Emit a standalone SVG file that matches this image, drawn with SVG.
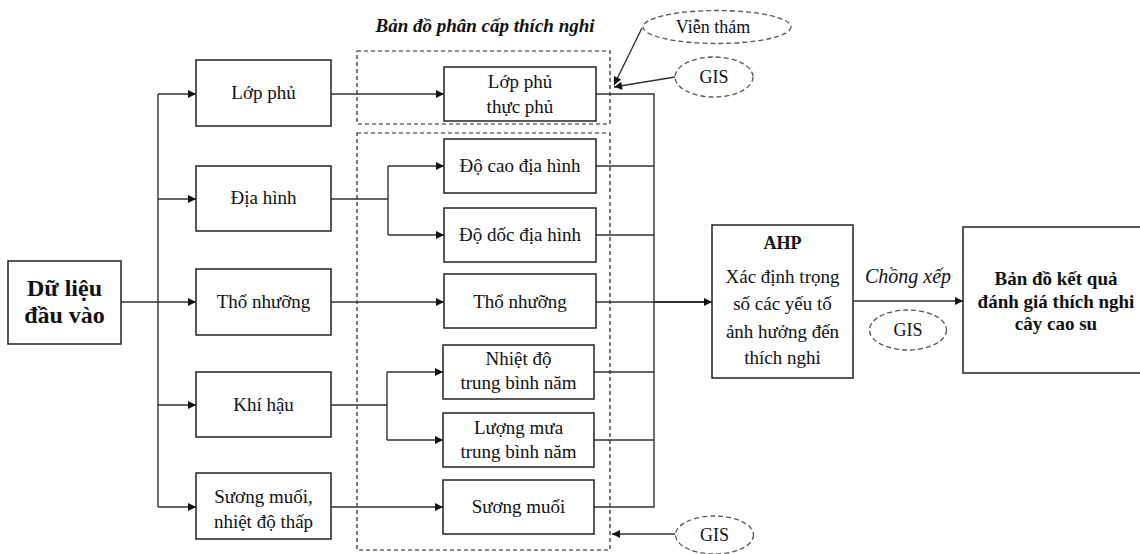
<svg xmlns="http://www.w3.org/2000/svg" width="1140" height="554" viewBox="0 0 1140 554">
<defs>
<marker id="ah" viewBox="0 0 10 10" refX="10" refY="5" markerWidth="9" markerHeight="8" markerUnits="userSpaceOnUse" orient="auto"><path d="M0,0 L10,5 L0,10 z" fill="#111"/></marker>
</defs>
<style>
.box{fill:#fff;stroke:#222;stroke-width:1.5}
.dash{fill:none;stroke:#222;stroke-width:1.2;stroke-dasharray:4,3}
.ell{fill:#fff;stroke:#555;stroke-width:1.3;stroke-dasharray:5,3}
.ln{fill:none;stroke:#333;stroke-width:1.4}
.ar{fill:none;stroke:#333;stroke-width:1.4;marker-end:url(#ah)}
text{font-family:"Liberation Serif","Times New Roman",serif;fill:#111;text-anchor:middle}
.t{font-size:19px}
.g{font-size:18px}
.b{font-weight:bold}
</style>
<rect width="1140" height="554" fill="#fff"/>

<g id="groups">
<rect class="dash" x="357" y="51" width="253" height="73"/>
<rect class="dash" x="357" y="133" width="253" height="417"/>
<text x="485" y="32" font-size="19" font-weight="bold" font-style="italic">Bản đồ phân cấp thích nghi</text>
</g>

<g id="connectors">
<polyline class="ln" points="121,302 158,302"/>
<line class="ln" x1="158" y1="94" x2="158" y2="507"/>
<line class="ar" x1="158" y1="94" x2="196" y2="94"/>
<line class="ar" x1="158" y1="199" x2="196" y2="199"/>
<line class="ar" x1="158" y1="302" x2="196" y2="302"/>
<line class="ar" x1="158" y1="405" x2="196" y2="405"/>
<line class="ar" x1="158" y1="507" x2="196" y2="507"/>
<line class="ar" x1="331" y1="94" x2="444" y2="94"/>
<polyline class="ln" points="331,199 388,199"/>
<line class="ln" x1="388" y1="166" x2="388" y2="235"/>
<line class="ar" x1="388" y1="166" x2="444" y2="166"/>
<line class="ar" x1="388" y1="235" x2="444" y2="235"/>
<line class="ar" x1="331" y1="302" x2="444" y2="302"/>
<polyline class="ln" points="331,405 387,405"/>
<line class="ln" x1="387" y1="372" x2="387" y2="440"/>
<line class="ar" x1="387" y1="372" x2="443" y2="372"/>
<line class="ar" x1="387" y1="440" x2="443" y2="440"/>
<line class="ar" x1="331" y1="507" x2="443" y2="507"/>
<polyline class="ln" points="596,94 654,94 654,507 594,507"/>
<line class="ln" x1="596" y1="166" x2="654" y2="166"/>
<line class="ln" x1="596" y1="235" x2="654" y2="235"/>
<line class="ln" x1="596" y1="302" x2="654" y2="302"/>
<line class="ln" x1="594" y1="372" x2="654" y2="372"/>
<line class="ln" x1="594" y1="440" x2="654" y2="440"/>
<line class="ar" x1="654" y1="302" x2="712" y2="302" style="stroke-width:2"/>
<line class="ar" x1="853" y1="301" x2="963" y2="301"/>
<line class="ar" x1="642" y1="28" x2="614" y2="85"/>
<line class="ar" x1="675" y1="77" x2="614" y2="87"/>
<line class="ar" x1="675" y1="534" x2="612" y2="534"/>
</g>

<g id="n-input"><rect class="box" x="8" y="261" width="113" height="83"/>
<text class="b" x="64.5" y="296" font-size="24">Dữ liệu</text><text class="b" x="64.5" y="323" font-size="24">đầu vào</text></g>

<g id="n-lopphu"><rect class="box" x="196" y="60" width="135" height="66"/><text class="t" x="263.5" y="99">Lớp phủ</text></g>
<g id="n-diahinh"><rect class="box" x="196" y="166" width="135" height="65"/><text class="t" x="263.5" y="204">Địa hình</text></g>
<g id="n-thonhuong"><rect class="box" x="196" y="269" width="135" height="66"/><text class="t" x="263.5" y="308">Thổ nhưỡng</text></g>
<g id="n-khihau"><rect class="box" x="196" y="372" width="135" height="65"/><text class="t" x="263.5" y="411">Khí hậu</text></g>
<g id="n-suongmuoi"><rect class="box" x="196" y="473" width="135" height="66"/><text class="t" x="263.5" y="503">Sương muối,</text><text class="t" x="263.5" y="528">nhiệt độ thấp</text></g>

<g id="n-lopphu2"><rect class="box" x="444" y="67" width="152" height="54"/><text class="t" x="520" y="88">Lớp phủ</text><text class="t" x="520" y="113">thực phủ</text></g>
<g id="n-docao"><rect class="box" x="444" y="139" width="152" height="54"/><text class="t" x="520" y="172">Độ cao địa hình</text></g>
<g id="n-dodoc"><rect class="box" x="444" y="208" width="152" height="54"/><text class="t" x="520" y="241">Độ dốc địa hình</text></g>
<g id="n-thonhuong2"><rect class="box" x="444" y="274" width="152" height="54"/><text class="t" x="520" y="308">Thổ nhưỡng</text></g>
<g id="n-nhietdo"><rect class="box" x="443" y="345" width="151" height="54"/><text class="t" x="518.5" y="365">Nhiệt độ</text><text class="t" x="518.5" y="389">trung bình năm</text></g>
<g id="n-luongmua"><rect class="box" x="443" y="413" width="151" height="54"/><text class="t" x="518.5" y="434">Lượng mưa</text><text class="t" x="518.5" y="458">trung bình năm</text></g>
<g id="n-suongmuoi2"><rect class="box" x="443" y="480" width="151" height="54"/><text class="t" x="518.5" y="513">Sương muối</text></g>

<g id="n-vientham"><ellipse class="ell" cx="717" cy="27" rx="74" ry="16.5"/><text class="g" x="713" y="33" font-size="19">Viễn thám</text></g>
<g id="n-gis1"><ellipse class="ell" cx="714" cy="77" rx="39" ry="20"/><text class="g" x="714" y="83">GIS</text></g>
<g id="n-gis2"><ellipse class="ell" cx="714.5" cy="535" rx="39" ry="19"/><text class="g" x="714.5" y="541">GIS</text></g>

<g id="n-ahp"><rect class="box" x="712" y="225" width="141" height="153"/>
<text class="b" x="782.5" y="249" font-size="18">AHP</text>
<text class="t" x="782.5" y="283">Xác định trọng</text>
<text class="t" x="782.5" y="310">số các yếu tố</text>
<text class="t" x="782.5" y="338">ảnh hưởng đến</text>
<text class="t" x="782.5" y="364">thích nghi</text></g>

<g id="n-overlay"><text x="908" y="283" font-size="20" font-style="italic">Chồng xếp</text>
<ellipse class="ell" cx="908" cy="330" rx="38.5" ry="20"/><text class="g" x="908" y="336">GIS</text></g>

<g id="n-result"><rect class="box" x="963" y="227" width="185" height="146"/>
<text class="b" x="1056" y="285" font-size="19">Bản đồ kết quả</text>
<text class="b" x="1056" y="308" font-size="19">đánh giá thích nghi</text>
<text class="b" x="1056" y="330" font-size="19">cây cao su</text></g>
</svg>
